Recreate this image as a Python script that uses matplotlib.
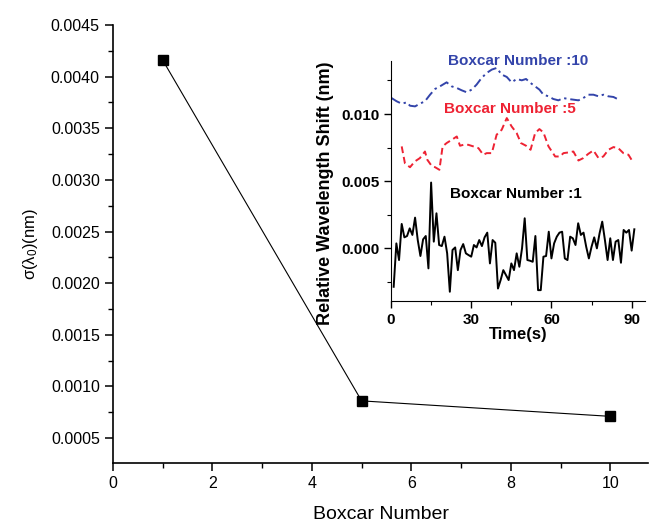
import matplotlib
matplotlib.use('Agg')
import matplotlib.pyplot as plt
from matplotlib.ticker import MultipleLocator

plt.rcParams['font.family'] = ['Liberation Sans', 'DejaVu Sans']
plt.rcParams['mathtext.fontset'] = 'custom'
plt.rcParams['mathtext.rm'] = 'Liberation Sans'
plt.rcParams['mathtext.it'] = 'Liberation Sans:italic'

# main plot: noise vs boxcar number
boxcar = [1, 5, 10]
sigma = [0.00416, 0.00086, 0.00071]

# inset: boxcar number 1 (1 s steps)
t1 = list(range(1, 92))
shift1 = [-2.86, 0.37, -0.87, 1.82, 0.82, 0.92, 1.49, 1.0, 2.29, 0.62,
          -0.57, 0.67, 0.92, -1.49, 4.9, 0.5, 2.61, 0.25, 0.17, 0.87,
          -0.37, -3.23, -0.12, 0.07, -1.62, -0.12, 0.32, -0.37, -0.5, -0.62,
          0.25, 0.07, 0.62, 0.17, 0.82, 1.17, -1.12, 0.62, 0.42, -2.99,
          -2.36, -1.62, -1.99, -2.36, -1.12, -1.62, -0.37, -1.37, 0.0, 2.24,
          -0.87, -0.92, -1.0, 0.92, -3.11, -3.11, -0.62, -0.57, 1.24, -0.75,
          0.37, 0.87, 1.17, 1.24, -0.75, -0.87, 0.87, 0.75, 0.25, 1.87,
          1.0, 1.17, 0.12, -0.75, 0.12, 0.82, 0.0, 1.12, 1.99, 0.62,
          -0.87, 0.75, -0.87, 0.5, 0.62, -1.07, 1.37, 1.17, 1.37, -0.17,
          1.42]
shift1 = [v * 1e-3 for v in shift1]

# boxcar number 5 (offset for display)
t5 = [4.0, 5.2, 7.1, 8.9, 10.8, 12.7, 13.6, 15.2, 16.5, 18.1,
      19.3, 20.8, 22.7, 24.6, 25.8, 27.1, 28.9, 30.8, 32.7, 34.5,
      35.8, 37.7, 39.5, 41.4, 43.3, 45.1, 47.0, 48.6, 50.5, 52.2,
      53.9, 55.5, 57.0, 58.9, 61.4, 63.2, 64.5, 66.3, 68.2, 70.1,
      71.9, 73.8, 75.7, 77.6, 79.4, 81.3, 83.2, 85.0, 86.9, 88.8,
      90.6]
shift5 = [7.59, 6.34, 6.04, 6.47, 6.72, 7.21, 6.59, 6.14, 6.04, 5.85,
          7.59, 7.84, 8.08, 8.33, 7.64, 7.71, 7.71, 7.59, 7.46, 6.97,
          7.09, 7.09, 8.46, 8.83, 9.70, 9.08, 8.58, 7.84, 7.64, 7.34,
          8.58, 8.88, 8.63, 7.59, 6.84, 6.84, 7.09, 7.14, 7.21, 6.54,
          6.72, 7.04, 7.29, 6.72, 6.84, 7.34, 7.54, 7.46, 7.09, 6.97,
          6.39]
shift5 = [v * 1e-3 for v in shift5]

# boxcar number 10 (offset for display)
t10 = [0.2, 2.1, 4.0, 5.9, 7.1, 9.0, 10.8, 12.7, 14.6, 16.5,
       18.3, 20.8, 22.7, 24.6, 26.4, 28.3, 30.2, 32.0, 33.9, 35.8,
       37.7, 39.5, 41.4, 43.3, 45.1, 47.0, 48.9, 50.5, 52.2, 53.9,
       55.5, 57.0, 58.9, 60.7, 62.6, 64.5, 66.3, 68.2, 70.1, 71.9,
       73.8, 75.7, 77.6, 79.4, 81.3, 83.2, 84.7]
shift10 = [11.19, 10.95, 10.77, 10.87, 10.62, 10.57, 10.77, 10.95, 11.44, 11.87,
           12.06, 12.36, 12.06, 11.94, 11.77, 11.62, 11.82, 12.19, 12.69, 13.06,
           13.31, 13.43, 12.94, 12.76, 12.36, 12.61, 12.51, 12.61, 12.31, 12.06,
           11.82, 11.44, 11.32, 11.12, 11.02, 11.19, 11.12, 11.07, 11.02, 11.19,
           11.44, 11.44, 11.32, 11.44, 11.32, 11.27, 11.12]
shift10 = [v * 1e-3 for v in shift10]

fig = plt.figure(figsize=(6.52, 5.27), dpi=100)

# main axes
ax = fig.add_axes([0.1733, 0.1214, 0.8206, 0.8311])
ax.plot(boxcar, sigma, color='black', linewidth=0.8, marker='s',
        markersize=7, markerfacecolor='black')
ax.set_xlim(0, 10.76)
ax.set_ylim(0.000258, 0.0045)
ax.xaxis.set_major_locator(MultipleLocator(2))
ax.xaxis.set_minor_locator(MultipleLocator(1))
ax.yaxis.set_major_locator(MultipleLocator(0.0005))
ax.yaxis.set_minor_locator(MultipleLocator(0.00025))
ax.yaxis.set_major_formatter(plt.FormatStrFormatter('%.4f'))
ax.spines['top'].set_visible(False)
ax.spines['right'].set_visible(False)
ax.spines['left'].set_linewidth(1.2)
ax.spines['bottom'].set_linewidth(1.2)
ax.tick_params(which='major', direction='out', length=6, width=1.1, labelsize=11.5)
ax.tick_params(which='minor', direction='out', length=3.5, width=1.0)
ax.tick_params(axis='x', pad=3)
ax.set_xlabel('Boxcar Number', fontsize=14, labelpad=11)
ax.set_ylabel(r'σ(λ$_0$)(nm)', fontsize=12, labelpad=8)

# inset
ins = fig.add_axes([0.5997, 0.4288, 0.3896, 0.4560])
ins.patch.set_alpha(0)
ins.plot(t1, shift1, color='black', linewidth=1.4)
ins.plot(t5, shift5, color='#ee2233', linewidth=1.4, linestyle=(0, (3.5, 2.0)))
ins.plot(t10, shift10, color='#3344aa', linewidth=1.4, linestyle=(0, (5, 2, 1.2, 2)))
ins.set_xlim(0, 95)
ins.set_ylim(-0.00392, 0.01397)
ins.xaxis.set_major_locator(MultipleLocator(30))
ins.xaxis.set_minor_locator(MultipleLocator(15))
ins.yaxis.set_major_locator(MultipleLocator(0.005))
ins.yaxis.set_minor_locator(MultipleLocator(0.0025))
ins.yaxis.set_major_formatter(plt.FormatStrFormatter('%.3f'))
ins.spines['top'].set_visible(False)
ins.spines['right'].set_visible(False)
ins.tick_params(which='major', direction='out', length=5, width=1.0, labelsize=11)
ins.tick_params(which='minor', direction='out', length=3, width=0.8)
for lab in ins.get_xticklabels() + ins.get_yticklabels():
    lab.set_fontweight('bold')
ins.set_xlabel('Time(s)', fontsize=12, fontweight='bold', labelpad=0)
ins.set_ylabel('Relative Wavelength Shift (nm)', fontsize=13, fontweight='bold')
ins.yaxis.set_label_coords(-0.225, 0.45)

ins.text(47.4, 0.01394, 'Boxcar Number :10', color='#3344aa', fontsize=11,
         fontweight='bold', ha='center', va='center', clip_on=False)
ins.text(44.4, 0.01037, 'Boxcar Number :5', color='#ee2233', fontsize=11,
         fontweight='bold', ha='center', va='center')
ins.text(46.7, 0.00406, 'Boxcar Number :1', color='black', fontsize=11,
         fontweight='bold', ha='center', va='center')

plt.savefig('out.png', dpi=100)
